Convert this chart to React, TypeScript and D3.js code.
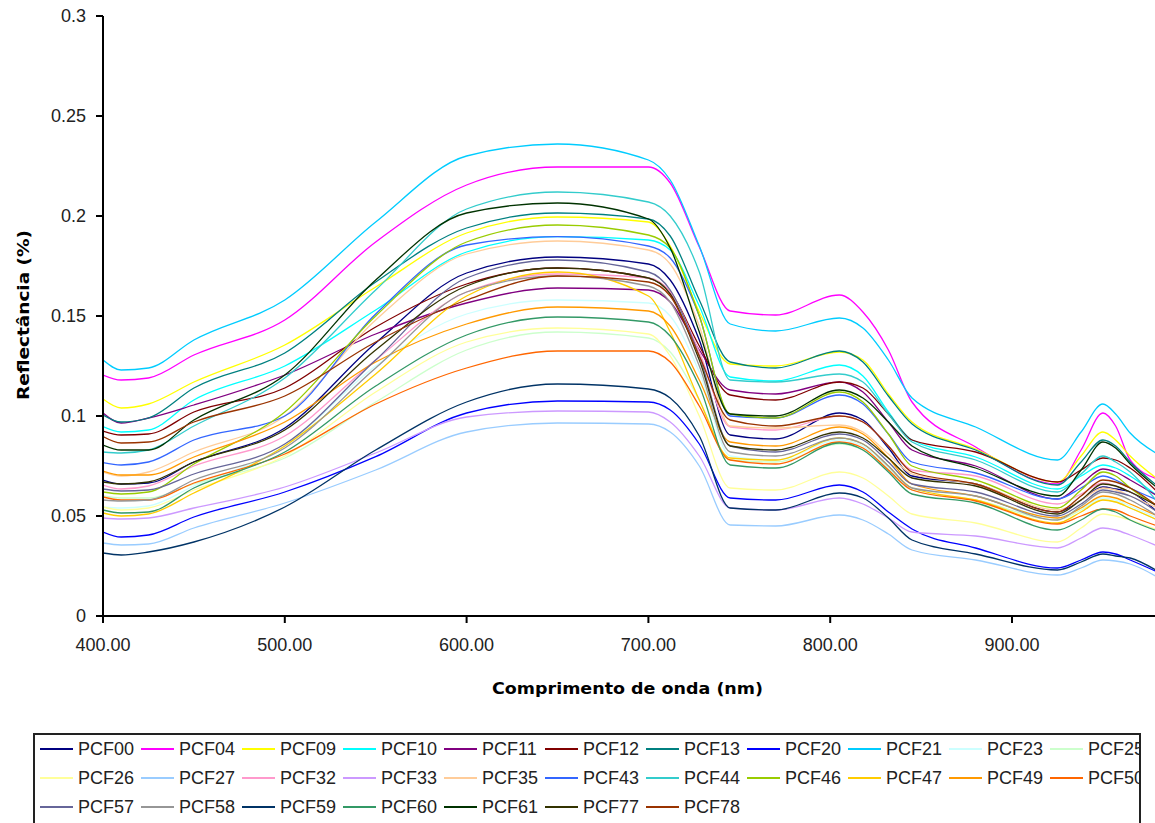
import React from "react";
import * as d3 from "d3";

// Wavelengths (nm) at which each spectrum is sampled
const wavelengths = [400, 410, 425, 450, 500, 550, 600, 650, 700, 712, 728, 745, 770, 805, 818, 832, 845, 880, 925, 938, 950, 957, 965, 980];

const PCF00 = [.068, .066, .0665, .077, .094, .1365, .1715, .1795, .176, .168, .138, .0905, .0885, .1015, .098, .084, .070, .066, .052, .058, .0645, .0635, .062, .052];
const PCF04 = [.1205, .118, .119, .1305, .148, .187, .2155, .2245, .2245, .2165, .1845, .1525, .1505, .1605, .152, .133, .107, .0845, .066, .083, .1015, .095, .078, .0685];
const PCF09 = [.1085, .104, .106, .117, .1355, .1645, .1915, .1995, .197, .185, .152, .126, .125, .132, .128, .111, .097, .0835, .067, .080, .092, .088, .080, .0685];
const PCF10 = [.0947, .092, .093, .108, .125, .153, .182, .1897, .188, .183, .155, .1195, .1175, .1255, .12, .102, .088, .0795, .0635, .070, .0755, .074, .070, .060];
const PCF11 = [.1015, .0965, .099, .1055, .1205, .141, .1565, .164, .163, .157, .133, .113, .111, .117, .112, .097, .083, .075, .0585, .066, .0735, .072, .068, .060];
const PCF12 = [.0925, .0905, .091, .102, .114, .1445, .166, .174, .169, .162, .135, .1105, .108, .117, .114, .101, .088, .082, .067, .073, .079, .078, .074, .062];
const PCF13 = [.1005, .097, .099, .114, .1315, .167, .194, .2015, .1985, .19, .158, .127, .124, .1325, .127, .110, .096, .083, .0655, .077, .088, .085, .077, .065];
const PCF20 = [.042, .0395, .0405, .0495, .062, .0797, .1015, .1075, .107, .103, .086, .059, .058, .0655, .062, .052, .0435, .034, .024, .028, .032, .031, .028, .022];
const PCF21 = [.128, .123, .124, .138, .158, .197, .230, .236, .228, .218, .185, .146, .1425, .149, .144, .128, .109, .0945, .078, .092, .106, .101, .0915, .081];
const PCF23 = [.0545, .054, .055, .065, .085, .125, .151, .158, .1565, .150, .122, .080, .078, .088, .085, .074, .064, .060, .049, .054, .059, .058, .055, .049];
const PCF25 = [.060, .059, .059, .066, .079, .107, .133, .142, .139, .132, .108, .078, .077, .086, .083, .073, .063, .058, .048, .053, .058, .057, .054, .048];
const PCF26 = [.0545, .053, .054, .063, .080, .112, .137, .144, .141, .130, .100, .064, .063, .072, .069, .060, .051, .0465, .037, .044, .051, .050, .048, .043];
const PCF27 = [.0365, .0355, .036, .044, .0565, .073, .092, .0965, .096, .092, .075, .0455, .045, .0505, .048, .041, .033, .028, .0205, .024, .028, .0275, .026, .0195];
const PCF32 = [.0655, .0635, .065, .075, .090, .128, .162, .171, .169, .162, .132, .0945, .093, .100, .097, .085, .073, .070, .056, .061, .0665, .065, .062, .055];
const PCF33 = [.049, .0485, .049, .054, .0645, .0815, .0995, .1025, .102, .097, .080, .054, .053, .059, .056, .049, .042, .040, .034, .039, .044, .043, .0405, .035];
const PCF35 = [.072, .070, .072, .082, .100, .148, .181, .1875, .183, .176, .145, .095, .094, .0955, .092, .081, .071, .066, .053, .058, .064, .063, .060, .054];
const PCF43 = [.0767, .0755, .077, .088, .100, .151, .1855, .1897, .185, .179, .150, .100, .099, .1105, .106, .091, .077, .0715, .0585, .064, .070, .068, .064, .058];
const PCF44 = [.082, .0815, .083, .095, .119, .163, .2035, .212, .207, .200, .172, .118, .117, .121, .117, .101, .087, .078, .062, .071, .080, .077, .072, .057];
const PCF46 = [.062, .061, .062, .076, .102, .150, .187, .1955, .1905, .184, .150, .101, .099, .112, .107, .091, .075, .068, .054, .063, .072, .070, .064, .055];
const PCF47 = [.0515, .050, .051, .0615, .085, .121, .160, .172, .160, .142, .108, .079, .078, .089, .086, .075, .064, .058, .0465, .052, .058, .057, .054, .048];
const PCF49 = [.0725, .0705, .0705, .0795, .097, .127, .146, .1545, .1525, .145, .118, .087, .085, .0945, .091, .079, .066, .060, .049, .054, .060, .059, .056, .050];
const PCF50 = [.0595, .058, .058, .0665, .081, .106, .124, .1325, .1325, .127, .105, .078, .076, .087, .084, .073, .063, .0575, .046, .050, .0535, .053, .050, .045];
const PCF57 = [.0635, .0625, .063, .071, .086, .128, .169, .178, .172, .163, .130, .085, .082, .091, .088, .077, .066, .062, .050, .056, .063, .062, .060, .052];
const PCF58 = [.058, .0575, .058, .068, .084, .124, .162, .170, .165, .157, .125, .082, .080, .089, .086, .075, .064, .060, .048, .055, .062, .061, .058, .050];
const PCF59 = [.0315, .0305, .032, .037, .0545, .083, .107, .116, .1135, .109, .090, .054, .053, .0615, .059, .049, .038, .031, .023, .027, .031, .030, .029, .0225];
const PCF60 = [.053, .0515, .052, .064, .082, .115, .1405, .1495, .147, .140, .115, .0755, .074, .0865, .083, .072, .061, .0565, .043, .048, .0535, .052, .048, .0425];
const PCF61 = [.0855, .083, .083, .098, .1205, .168, .2015, .2065, .1985, .184, .142, .101, .100, .113, .109, .097, .085, .074, .060, .073, .087, .084, .076, .064];
const PCF77 = [.067, .066, .067, .077, .093, .133, .165, .174, .169, .161, .128, .085, .083, .092, .089, .079, .069, .065, .051, .058, .066, .065, .062, .055];
const PCF78 = [.0897, .0865, .087, .097, .110, .137, .158, .170, .167, .160, .130, .098, .095, .100, .097, .085, .072, .066, .052, .060, .068, .067, .064, .055];

const seriesNames = ["PCF00", "PCF04", "PCF09", "PCF10", "PCF11", "PCF12", "PCF13", "PCF20", "PCF21", "PCF23", "PCF25", "PCF26", "PCF27", "PCF32", "PCF33", "PCF35", "PCF43", "PCF44", "PCF46", "PCF47", "PCF49", "PCF50", "PCF57", "PCF58", "PCF59", "PCF60", "PCF61", "PCF77", "PCF78"];
const seriesValues = [PCF00, PCF04, PCF09, PCF10, PCF11, PCF12, PCF13, PCF20, PCF21, PCF23, PCF25, PCF26, PCF27, PCF32, PCF33, PCF35, PCF43, PCF44, PCF46, PCF47, PCF49, PCF50, PCF57, PCF58, PCF59, PCF60, PCF61, PCF77, PCF78];
const seriesColors = ["#000080", "#FF00FF", "#FFFF00", "#00FFFF", "#800080", "#800000", "#008080", "#0000FF", "#00CCFF", "#CCFFFF", "#CCFFCC", "#FFFF99", "#99CCFF", "#FF99CC", "#CC99FF", "#FFCC99", "#3366FF", "#33CCCC", "#99CC00", "#FFCC00", "#FF9900", "#FF6600", "#666699", "#969696", "#003366", "#339966", "#003300", "#333300", "#993300"];

const yTickValues = [0, 0.05, 0.1, 0.15, 0.2, 0.25, 0.3];
const yTickLabels = ["0", "0.05", "0.1", "0.15", "0.2", "0.25", "0.3"];
const xTickValues = [400, 500, 600, 700, 800, 900];
const xTickLabels = ["400.00", "500.00", "600.00", "700.00", "800.00", "900.00"];

const W = 1155;
const H = 823;
const FONT = "'Liberation Sans', Arial, sans-serif";

export default function App() {
  const x = d3.scaleLinear().domain([400, 900]).range([103, 1012]);
  const y = d3.scaleLinear().domain([0, 0.3]).range([616, 16]);
  const line = d3
    .line<number>()
    .x((_, i) => x(wavelengths[i]))
    .y((d) => y(d))
    .curve(d3.curveMonotoneX);

  const legendCols = 11;
  return (
    <svg
      width={W}
      height={H}
      style={{ position: "absolute", left: 0, top: 0, background: "#fff" }}
      xmlns="http://www.w3.org/2000/svg"
    >
      <defs>
        <clipPath id="plotClip">
          <rect x={103} y={0} width={W - 103} height={617} />
        </clipPath>
        <clipPath id="legendClip">
          <rect x={34} y={734} width={1106} height={100} />
        </clipPath>
      </defs>
      <rect x={0} y={0} width={W} height={H} fill="#fff" />

      {/* series */}
      <g clipPath="url(#plotClip)">
        {seriesValues.map((vals, i) => (
          <path
            key={seriesNames[i]}
            d={line(vals) || ""}
            fill="none"
            stroke={seriesColors[i]}
            strokeWidth={1.3}
            strokeLinejoin="round"
          />
        ))}
      </g>

      {/* axes */}
      <line x1={103} y1={16} x2={103} y2={617} stroke="#000" strokeWidth={2} />
      <line x1={102} y1={616} x2={W} y2={616} stroke="#000" strokeWidth={2} />
      {yTickValues.map((v, i) => (
        <g key={"yt" + i}>
          <line x1={96} x2={103} y1={y(v)} y2={y(v)} stroke="#000" strokeWidth={2} />
          <text
            x={86}
            y={y(v)}
            dy="0.36em"
            textAnchor="end"
            fontFamily={FONT}
            fontSize={18}
            fill="#222"
          >
            {yTickLabels[i]}
          </text>
        </g>
      ))}
      {xTickValues.map((v, i) => (
        <g key={"xt" + i}>
          <line x1={x(v)} x2={x(v)} y1={616} y2={623} stroke="#000" strokeWidth={2} />
          <text
            x={x(v)}
            y={651}
            textAnchor="middle"
            fontFamily={FONT}
            fontSize={18}
            fill="#222"
          >
            {xTickLabels[i]}
          </text>
        </g>
      ))}

      {/* axis titles */}
      <text
        transform="translate(29,315) rotate(-90)"
        textAnchor="middle"
        fontFamily="'DejaVu Sans', sans-serif"
        fontWeight="bold"
        fontSize={16}
        textLength={170}
        lengthAdjust="spacingAndGlyphs"
        fill="#000"
      >
        Reflectância (%)
      </text>
      <text
        x={627.5}
        y={694}
        textAnchor="middle"
        fontFamily="'DejaVu Sans', sans-serif"
        fontWeight="bold"
        fontSize={16}
        textLength={271}
        lengthAdjust="spacingAndGlyphs"
        fill="#000"
      >
        Comprimento de onda (nm)
      </text>

      {/* legend */}
      <rect x={34} y={734} width={1106} height={110} fill="#fff" stroke="#222" strokeWidth={2} />
      <g clipPath="url(#legendClip)">
        {seriesNames.map((name, i) => {
          const col = i % legendCols;
          const row = Math.floor(i / legendCols);
          const lx = 40 + col * 101;
          const cy = 749 + row * 29;
          return (
            <g key={"lg" + name}>
              <line x1={lx} x2={lx + 33} y1={cy} y2={cy} stroke={seriesColors[i]} strokeWidth={2} />
              <text
                x={lx + 38}
                y={cy}
                dy="0.36em"
                fontFamily={FONT}
                fontSize={18}
                fill="#222"
              >
                {name}
              </text>
            </g>
          );
        })}
      </g>
    </svg>
  );
}
